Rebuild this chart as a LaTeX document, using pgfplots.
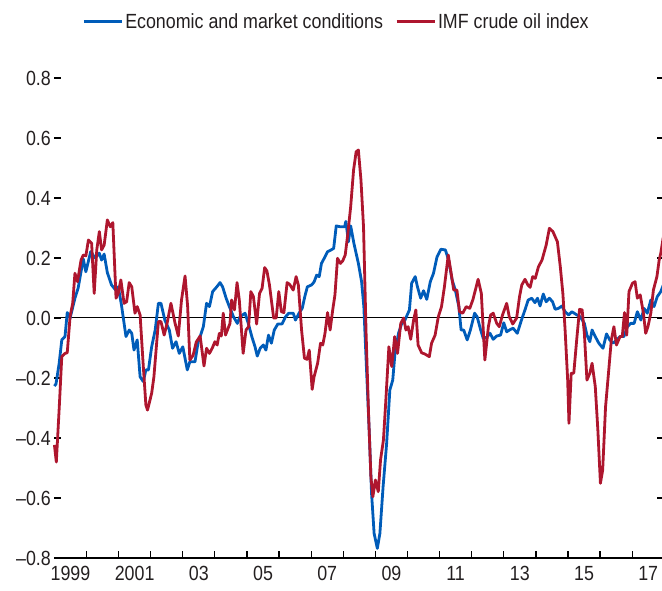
\documentclass[border=0pt]{standalone}
\usepackage{pgfplots}
\pgfplotsset{compat=1.18}
\usepackage{fontspec}
\setmainfont{Liberation Sans}[FakeStretch=0.87]
\definecolor{econblue}{RGB}{0,92,185}
\definecolor{oilred}{RGB}{174,22,46}
\definecolor{txt}{RGB}{35,31,32}
\begin{document}
\begin{tikzpicture}
\begin{axis}[
  at={(0pt,0pt)}, anchor=south west,
  scale only axis, width=609.9pt, height=510pt,
  xmin=1999, xmax=2018, ymin=-0.8, ymax=0.9,
  axis x line*=bottom,
  x axis line style={black, line width=1.3pt, -},
  y axis line style={draw=none},
  ytick={-0.8,-0.6,...,0.8},
  yticklabels={{--0.8},{--0.6},{--0.4},{--0.2},{0.0},{0.2},{0.4},{0.6},{0.8}},
  ytick pos=both, yticklabel pos=left,
  tick align=inside,
  major tick length=7pt,
  minor tick length=7pt,
  xtick={1999.5,2001.5,...,2017.5},
  xticklabels={1999,2001,03,05,07,09,11,13,15,17},
  minor xtick={2000,2001,...,2017},
  major x tick style={draw=none},
  every tick/.style={black, line width=1.2pt},
  tick label style={font=\fontsize{20.5}{24}\selectfont, text=txt},
  xticklabel style={yshift=-5pt},
  yticklabel style={xshift=0pt},
  legend style={at={(0.4625,1.051)}, anchor=center, draw=none, fill=none,
    legend columns=2, font=\fontsize{20.5}{24}\selectfont, text=txt,
    /tikz/every even column/.append style={column sep=10pt},
    nodes={inner sep=2pt}},
  legend image code/.code={\draw[#1, line width=3pt] (0pt,0pt) -- (38pt,0pt);},
  clip=false,
]
\addplot[black, line width=1pt, forget plot] coordinates {(1999,0) (2018,0)};
\addplot[econblue, line width=2.8pt, line join=round] coordinates {
(1999.00,-0.227) (1999.05,-0.22) (1999.15,-0.15) (1999.23,-0.073) (1999.33,-0.062) (1999.40,0.018) (1999.49,0.0) (1999.64,0.066) (1999.74,0.10) (1999.90,0.197) (1999.98,0.154) (2000.13,0.221) (2000.27,0.20) (2000.40,0.216) (2000.47,0.193) (2000.55,0.213) (2000.65,0.151) (2000.78,0.11) (2000.91,0.093) (2000.99,0.104) (2001.09,0.043) (2001.23,-0.062) (2001.33,-0.04) (2001.41,-0.051) (2001.48,-0.107) (2001.58,-0.073) (2001.67,-0.196) (2001.77,-0.212) (2001.85,-0.173) (2001.93,-0.173) (2002.03,-0.096) (2002.14,-0.04) (2002.24,0.049) (2002.32,0.049) (2002.44,-0.007) (2002.58,-0.04) (2002.68,-0.101) (2002.79,-0.079) (2002.89,-0.118) (2003.00,-0.096) (2003.14,-0.173) (2003.22,-0.146) (2003.38,-0.146) (2003.48,-0.079) (2003.54,-0.062) (2003.64,-0.029) (2003.74,0.049) (2003.83,0.038) (2003.93,0.088) (2004.06,0.104) (2004.16,0.118) (2004.24,0.104) (2004.35,0.066) (2004.45,0.038) (2004.58,0.004) (2004.70,-0.018) (2004.78,0.004) (2004.94,0.016) (2005.04,-0.018) (2005.15,-0.062) (2005.25,-0.096) (2005.32,-0.127) (2005.41,-0.101) (2005.51,-0.09) (2005.59,-0.107) (2005.67,-0.057) (2005.76,-0.084) (2005.85,-0.04) (2005.96,-0.02) (2006.09,-0.02) (2006.20,0.004) (2006.30,0.016) (2006.44,0.016) (2006.51,-0.007) (2006.62,0.016) (2006.72,0.032) (2006.80,0.071) (2006.88,0.104) (2007.01,0.11) (2007.09,0.12) (2007.17,0.143) (2007.25,0.138) (2007.32,0.182) (2007.43,0.204) (2007.51,0.221) (2007.62,0.227) (2007.70,0.232) (2007.78,0.307) (2007.91,0.304) (2008.04,0.304) (2008.08,0.322) (2008.16,0.254) (2008.23,0.307) (2008.33,0.249) (2008.47,0.182) (2008.57,0.121) (2008.64,0.038) (2008.72,-0.162) (2008.81,-0.384) (2008.88,-0.584) (2008.96,-0.718) (2009.06,-0.768) (2009.14,-0.718) (2009.24,-0.562) (2009.35,-0.418) (2009.45,-0.24) (2009.54,-0.207) (2009.61,-0.118) (2009.72,-0.051) (2009.82,-0.018) (2009.92,-0.007) (2010.06,0.027) (2010.13,0.116) (2010.24,0.138) (2010.31,0.104) (2010.41,0.066) (2010.50,0.091) (2010.60,0.062) (2010.71,0.121) (2010.81,0.149) (2010.92,0.204) (2011.04,0.229) (2011.18,0.227) (2011.28,0.193) (2011.39,0.127) (2011.49,0.093) (2011.60,0.038) (2011.67,-0.04) (2011.75,-0.04) (2011.86,-0.073) (2011.96,-0.04) (2012.09,0.016) (2012.17,0.004) (2012.28,-0.04) (2012.36,-0.068) (2012.47,-0.064) (2012.57,-0.051) (2012.67,-0.071) (2012.78,-0.06) (2012.90,-0.057) (2013.00,-0.016) (2013.09,-0.046) (2013.21,-0.038) (2013.29,-0.034) (2013.42,-0.051) (2013.55,-0.007) (2013.66,0.027) (2013.76,0.06) (2013.87,0.066) (2013.97,0.051) (2014.05,0.066) (2014.13,0.04) (2014.23,0.08) (2014.32,0.054) (2014.42,0.066) (2014.52,0.054) (2014.60,0.029) (2014.70,0.032) (2014.81,0.04) (2014.91,0.021) (2015.02,0.01) (2015.12,0.021) (2015.28,0.01) (2015.38,0.004) (2015.51,-0.018) (2015.59,-0.057) (2015.68,-0.079) (2015.75,-0.04) (2015.85,-0.062) (2015.96,-0.084) (2016.09,-0.101) (2016.20,-0.053) (2016.30,-0.073) (2016.41,-0.084) (2016.51,-0.073) (2016.62,-0.062) (2016.74,-0.062) (2016.85,-0.029) (2016.95,-0.018) (2017.06,-0.018) (2017.16,0.021) (2017.27,-0.007) (2017.37,0.032) (2017.47,0.016) (2017.58,0.06) (2017.68,0.038) (2017.78,0.071) (2017.89,0.088) (2017.97,0.11)
};
\addlegendentry{Economic and market conditions}
\addplot[oilred, line width=2.8pt, line join=round] coordinates {
(1999.00,-0.423) (1999.06,-0.48) (1999.15,-0.30) (1999.23,-0.129) (1999.33,-0.118) (1999.40,-0.116) (1999.49,0.006) (1999.57,0.049) (1999.64,0.149) (1999.72,0.121) (1999.83,0.193) (1999.90,0.21) (1999.98,0.207) (2000.06,0.26) (2000.16,0.249) (2000.24,0.082) (2000.32,0.227) (2000.40,0.288) (2000.47,0.227) (2000.55,0.243) (2000.65,0.327) (2000.74,0.304) (2000.82,0.318) (2000.92,0.066) (2000.99,0.082) (2001.07,0.127) (2001.17,0.049) (2001.25,0.054) (2001.33,0.118) (2001.41,0.104) (2001.51,0.016) (2001.58,0.038) (2001.67,0.01) (2001.77,-0.162) (2001.85,-0.29) (2001.90,-0.307) (2002.03,-0.251) (2002.10,-0.196) (2002.24,-0.012) (2002.32,-0.012) (2002.42,-0.057) (2002.51,-0.018) (2002.63,0.049) (2002.76,-0.018) (2002.86,-0.06) (2002.96,0.06) (2003.07,0.14) (2003.15,0.04) (2003.22,-0.14) (2003.32,-0.125) (2003.42,-0.08) (2003.54,-0.06) (2003.66,-0.16) (2003.74,-0.101) (2003.83,-0.118) (2003.92,-0.10) (2004.00,-0.079) (2004.07,-0.09) (2004.14,-0.051) (2004.20,-0.06) (2004.26,0.016) (2004.33,-0.057) (2004.47,-0.018) (2004.52,0.06) (2004.61,0.027) (2004.69,0.118) (2004.76,0.06) (2004.88,-0.118) (2004.97,-0.04) (2005.05,-0.029) (2005.12,0.088) (2005.20,0.071) (2005.30,-0.02) (2005.39,0.082) (2005.47,0.099) (2005.55,0.168) (2005.62,0.157) (2005.70,0.11) (2005.83,0.0) (2005.91,0.0) (2005.99,0.088) (2006.07,0.021) (2006.15,0.018) (2006.25,0.118) (2006.33,0.112) (2006.44,0.093) (2006.53,0.138) (2006.60,0.11) (2006.70,-0.04) (2006.79,-0.134) (2006.87,-0.138) (2006.94,-0.107) (2007.03,-0.238) (2007.09,-0.196) (2007.20,-0.151) (2007.29,-0.084) (2007.36,-0.09) (2007.43,-0.051) (2007.51,0.018) (2007.59,-0.04) (2007.67,0.027) (2007.74,0.077) (2007.82,0.199) (2007.91,0.182) (2007.98,0.19) (2008.06,0.21) (2008.14,0.28) (2008.23,0.371) (2008.32,0.493) (2008.40,0.554) (2008.47,0.56) (2008.55,0.46) (2008.63,0.304) (2008.71,-0.051) (2008.79,-0.329) (2008.86,-0.529) (2008.92,-0.596) (2009.00,-0.54) (2009.09,-0.579) (2009.16,-0.473) (2009.25,-0.407) (2009.32,-0.284) (2009.42,-0.096) (2009.51,-0.162) (2009.60,-0.062) (2009.69,-0.118) (2009.79,-0.018) (2009.88,0.0) (2009.95,-0.04) (2010.02,-0.029) (2010.10,-0.071) (2010.19,-0.007) (2010.26,0.027) (2010.33,-0.09) (2010.44,-0.116) (2010.54,-0.12) (2010.68,-0.129) (2010.75,-0.084) (2010.86,-0.057) (2010.96,0.004) (2011.06,0.038) (2011.15,0.104) (2011.27,0.21) (2011.36,0.149) (2011.44,0.093) (2011.54,0.093) (2011.62,0.021) (2011.72,0.016) (2011.83,0.038) (2011.94,0.032) (2012.04,0.062) (2012.20,0.129) (2012.30,0.082) (2012.41,-0.14) (2012.52,-0.029) (2012.59,0.01) (2012.67,0.016) (2012.78,-0.018) (2012.86,-0.029) (2012.96,0.01) (2013.09,0.049) (2013.17,0.004) (2013.28,-0.02) (2013.40,0.0) (2013.49,0.071) (2013.56,0.11) (2013.66,0.129) (2013.75,0.11) (2013.82,0.102) (2013.90,0.138) (2013.98,0.132) (2014.08,0.171) (2014.19,0.193) (2014.32,0.243) (2014.42,0.299) (2014.53,0.288) (2014.67,0.254) (2014.76,0.171) (2014.84,0.082) (2014.91,-0.04) (2014.99,-0.207) (2015.03,-0.351) (2015.10,-0.184) (2015.18,-0.184) (2015.28,-0.062) (2015.36,0.029) (2015.44,0.027) (2015.51,-0.051) (2015.59,-0.207) (2015.68,-0.184) (2015.75,-0.151) (2015.85,-0.229) (2015.93,-0.373) (2016.01,-0.551) (2016.08,-0.507) (2016.17,-0.296) (2016.27,-0.173) (2016.35,-0.073) (2016.43,-0.029) (2016.51,-0.09) (2016.62,-0.062) (2016.69,-0.062) (2016.76,0.018) (2016.83,-0.057) (2016.90,0.088) (2017.01,0.116) (2017.09,0.121) (2017.16,0.066) (2017.25,0.077) (2017.35,0.016) (2017.42,-0.051) (2017.49,-0.029) (2017.58,0.016) (2017.66,0.093) (2017.77,0.138) (2017.84,0.193) (2017.89,0.216) (2017.97,0.27)
};
\addlegendentry{IMF crude oil index}
\end{axis}
\pgfresetboundingbox
\useasboundingbox (-54.4pt,-32pt) rectangle (607.6pt,558pt);
\end{tikzpicture}
\end{document}
